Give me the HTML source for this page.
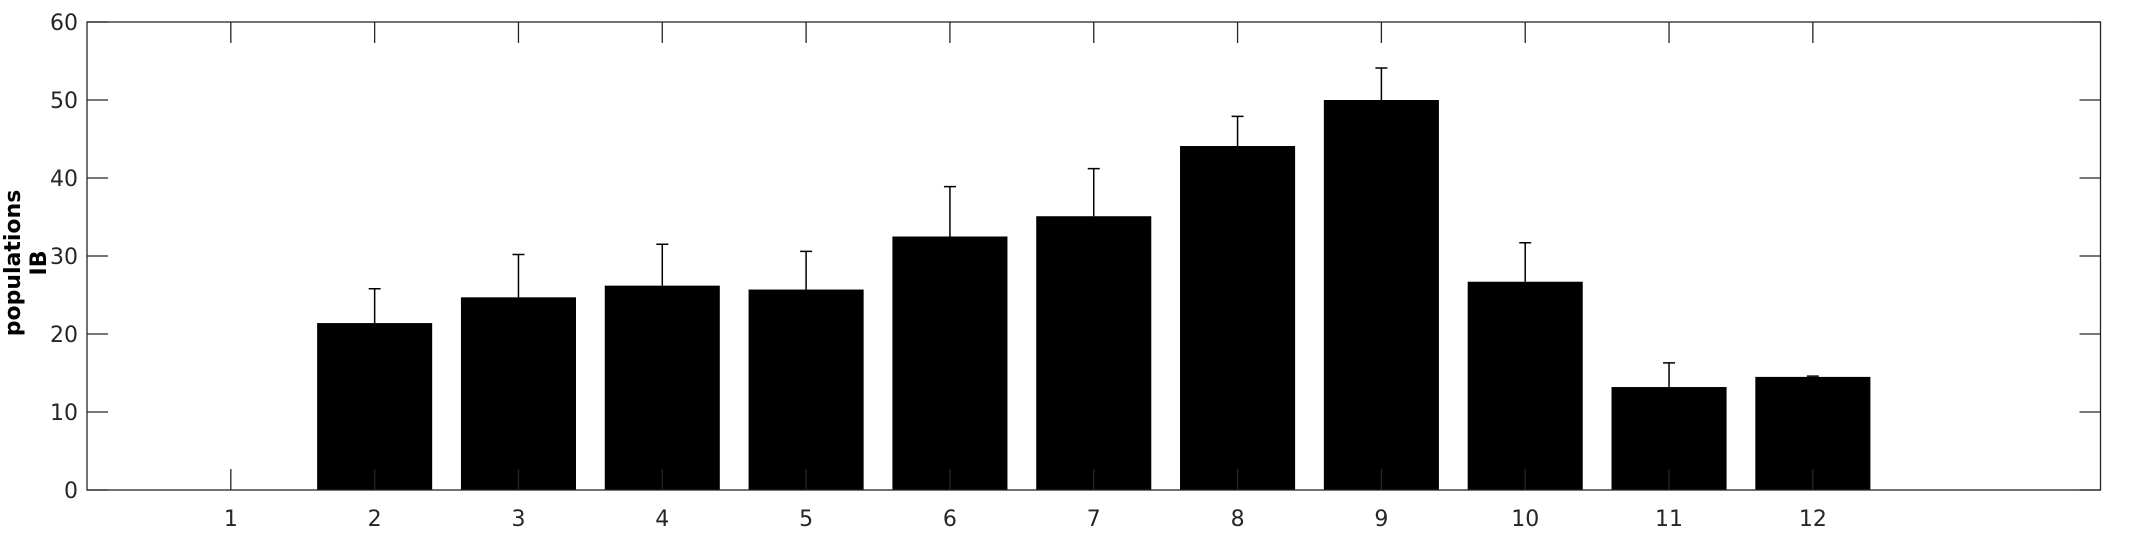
<!DOCTYPE html>
<html><head><meta charset="utf-8"><style>
html,body{margin:0;padding:0;background:#fff;}
svg{display:block;font-family:"DejaVu Sans","Liberation Sans",sans-serif;}
</style></head><body>
<svg id="chart" width="2133" height="533" viewBox="0 0 2133 533" xmlns="http://www.w3.org/2000/svg">
<g id="bars"></g>
<g id="axes"></g>
<text transform="translate(20,263) rotate(-90)" text-anchor="middle" font-size="22" font-weight="bold" fill="#000">populations</text>
<text transform="translate(46,263) rotate(-90)" text-anchor="middle" font-size="22" font-weight="bold" fill="#000">IB</text>
</svg>
<script>
const categories = [1,2,3,4,5,6,7,8,9,10,11,12];
const values = [0,21.4,24.7,26.2,25.7,32.5,35.1,44.1,50.0,26.7,13.2,14.5];
const errors = [0,4.4,5.5,5.3,4.9,6.4,6.1,3.8,4.1,5.0,3.1,0.1];
const yTicks = [0,10,20,30,40,50,60];
const xTicks = [1,2,3,4,5,6,7,8,9,10,11,12];

const L=87,R=2100.5,T=22,B=490;
const xMin=0,xMax=14,yMin=0,yMax=60;
const xs=v=>L+(v-xMin)/(xMax-xMin)*(R-L);
const ys=v=>B-(v-yMin)/(yMax-yMin)*(B-T);
const NS="http://www.w3.org/2000/svg";
function mk(tag,attrs,parent){const e=document.createElementNS(NS,tag);for(const k in attrs)e.setAttribute(k,attrs[k]);parent.appendChild(e);return e;}
const bars=document.getElementById('bars'),axes=document.getElementById('axes');
const bw=0.8*(R-L)/(xMax-xMin);
categories.forEach((c,i)=>{
  if(values[i]<=0) return;
  const r=mk('rect',{x:xs(c)-bw/2,y:ys(values[i]),width:bw,height:ys(0)-ys(values[i]),fill:'#000'},bars);
  
  
  const top=ys(values[i]+errors[i]);
  const eb=mk('path',{d:`M${xs(c)} ${ys(values[i])}V${top}M${xs(c)-6} ${top}H${xs(c)+6}`,stroke:'#000','stroke-width':1.5,fill:'none'},bars);
  
  
});
const frame=mk('rect',{x:L,y:T,width:R-L,height:B-T,fill:'none',stroke:'#262626','stroke-width':1.3},axes);


yTicks.forEach(v=>{
  const y=ys(v);
  const tk=mk('path',{d:`M${L} ${y}H${L+21}M${R} ${y}H${R-21}`,stroke:'#262626','stroke-width':1.3},axes);
  
  
  const t=mk('text',{x:78,y:y+8,'text-anchor':'end','font-size':22,fill:'#262626'},axes);
  t.textContent=v;
  
  
});
xTicks.forEach(v=>{
  const x=xs(v);
  const tk=mk('path',{d:`M${x} ${B}V${B-21}M${x} ${T}V${T+21}`,stroke:'#262626','stroke-width':1.3},axes);
  
  
  const t=mk('text',{x:x,y:526,'text-anchor':'middle','font-size':22,fill:'#262626'},axes);
  t.textContent=v;
  
  
});
</script>
</body></html>
